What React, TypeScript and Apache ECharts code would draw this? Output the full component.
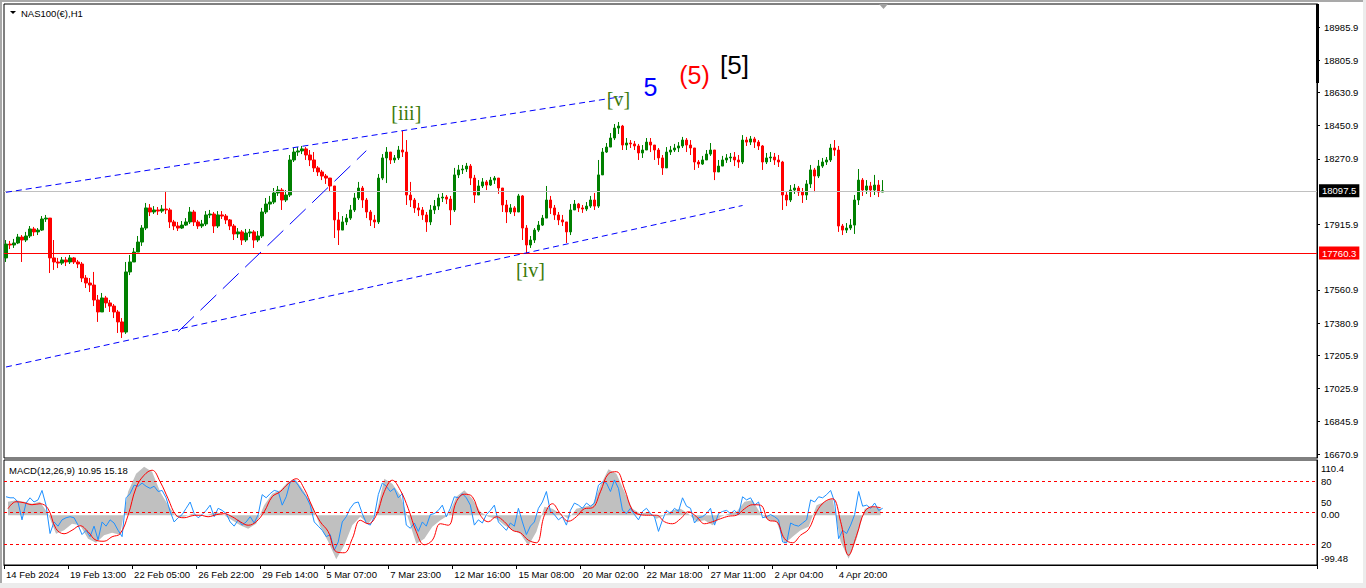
import React, { useEffect, useRef } from 'react';
import * as echarts from 'echarts';

// ---- Price data (H1 candles sampled every 4 hours) ----
const firstOpen = 17734;
const closes = [
  17809,17804,17815,17847,17831,17853,17891,17875,17885,17945,
  17950,17734,17712,17706,17723,17712,17734,17712,17701,17625,
  17598,17587,17506,17441,17517,17490,17473,17441,17387,17332,
  17658,17712,17766,17820,17896,18005,17983,17994,17988,17999,
  17994,17929,17907,17896,17912,17929,17983,17929,17907,17918,
  17967,17972,17907,17967,17961,17940,17907,17864,17875,17831,
  17869,17875,17831,17853,17983,18026,18037,18086,18102,18048,
  18075,18265,18308,18314,18325,18292,18265,18222,18200,18178,
  18167,18124,17940,17885,17929,17950,17994,18059,18113,18048,
  17983,17940,17929,18167,18276,18308,18265,18276,18319,18308,
  18075,18048,18005,17994,17967,17929,17994,18015,18059,18064,
  18053,17994,18184,18211,18216,18232,18167,18075,18124,18146,
  18129,18156,18167,18113,18021,17983,18005,17983,18070,17896,
  17804,17831,17885,17912,17950,18048,18005,17967,17940,17929,
  17875,17994,18026,18005,17999,18015,18048,18015,18184,18308,
  18335,18384,18438,18449,18346,18357,18352,18341,18303,18319,
  18362,18346,18319,18276,18222,18308,18319,18330,18341,18373,
  18346,18330,18254,18243,18265,18297,18319,18200,18232,18265,
  18276,18281,18265,18254,18373,18362,18379,18362,18341,18254,
  18276,18281,18265,18254,18075,18048,18102,18113,18091,18075,
  18135,18211,18178,18232,18254,18265,18330,18319,17907,17885,
  17896,17912,18048,18156,18102,18124,18102,18129,18091,18098,
];
const highs = [
  17831,17826,17837,17864,17858,17875,17907,17902,17896,17961,
  17967,17950,17831,17734,17739,17739,17750,17739,17723,17712,
  17641,17625,17658,17533,17544,17528,17506,17484,17452,17408,
  17712,17750,17788,17853,17912,18032,18026,18015,18010,18021,
  18097,18005,17940,17929,17934,17950,18010,17994,17940,17940,
  17988,17994,17983,17988,17988,17972,17945,17918,17896,17885,
  17891,17891,17885,17880,18005,18059,18070,18113,18124,18113,
  18102,18292,18330,18335,18341,18335,18319,18308,18232,18211,
  18189,18167,18124,17983,17961,17972,18021,18086,18146,18124,
  18059,17994,17967,18189,18297,18335,18297,18292,18341,18422,
  18373,18146,18059,18032,18010,17983,18021,18048,18081,18086,
  18075,18070,18222,18238,18238,18249,18243,18184,18156,18167,
  18156,18173,18178,18167,18113,18048,18026,18015,18081,18075,
  17912,17853,17896,17934,17967,18124,18070,18021,17983,17967,
  17929,18026,18048,18032,18021,18037,18070,18086,18265,18330,
  18357,18411,18460,18471,18455,18384,18373,18368,18352,18346,
  18384,18384,18346,18330,18292,18335,18341,18352,18362,18390,
  18384,18373,18330,18265,18287,18319,18357,18319,18265,18287,
  18297,18303,18308,18292,18400,18390,18395,18390,18373,18346,
  18303,18308,18303,18292,18260,18091,18129,18135,18124,18113,
  18156,18238,18222,18265,18276,18281,18352,18373,18341,17918,
  17923,17945,18075,18216,18167,18156,18146,18184,18156,18156,
];
const lows = [
  17712,17782,17788,17809,17712,17820,17842,17853,17858,17880,
  17929,17652,17669,17679,17696,17690,17701,17701,17679,17603,
  17571,17549,17473,17387,17452,17463,17441,17408,17327,17300,
  17322,17641,17734,17777,17799,17885,17961,17972,17967,17978,
  17972,17896,17885,17880,17891,17907,17918,17907,17891,17896,
  17907,17950,17869,17896,17945,17918,17885,17831,17842,17804,
  17820,17847,17788,17820,17842,17972,17994,18026,18070,17994,
  18037,18064,18254,18287,18297,18265,18232,18200,18178,18156,
  18135,18091,17842,17804,17896,17912,17940,17983,18048,18005,
  17950,17907,17896,17918,18156,18140,18243,18249,18265,18281,
  18021,18010,17978,17961,17940,17875,17912,17972,17994,18037,
  18026,17912,17983,18167,18189,18200,18129,18032,18086,18113,
  18102,18124,18135,18081,17983,17923,17972,17961,17983,17831,
  17761,17788,17815,17875,17907,17967,17972,17940,17912,17907,
  17815,17858,17994,17983,17978,17988,18005,17994,18005,18238,
  18303,18341,18373,18406,18319,18319,18330,18319,18265,18276,
  18319,18308,18265,18238,18184,18265,18292,18308,18308,18330,
  18308,18292,18211,18222,18238,18276,18287,18156,18200,18232,
  18249,18254,18232,18222,18243,18341,18346,18330,18319,18211,
  18243,18254,18238,18227,17994,18015,18037,18081,18070,18032,
  18048,18113,18091,18167,18222,18238,18254,18287,17875,17858,
  17869,17885,17864,18021,18070,18081,18064,18075,18064,18091,
];

// ---- MACD window (8-hour resolution for histogram / signal) ----
const macdHist = [
  27,30,27,23,27,3,-37,-30,-17,-20,
  -47,-55,-40,-35,-39,47,83,97,87,47,
  20,-3,-3,3,0,1,7,0,-10,-20,
  -27,-17,20,43,50,67,70,47,20,-23,
  -53,-88,-60,-20,-3,-17,3,73,63,40,
  -7,-57,-47,-23,-10,0,37,50,33,7,
  -3,-7,-20,-30,-37,-61,-33,17,13,3,
  -7,13,17,20,60,92,83,47,13,3,
  7,-7,0,10,13,3,-13,-10,-20,-3,
  3,7,27,30,3,-10,-13,-57,-43,-30,
  -23,20,27,33,-53,-87,-47,13,17,13,
];
const macdSignal = [
  13,27,25,21,23,13,-27,-37,-30,-21,
  -33,-50,-52,-43,-37,0,55,80,90,67,
  33,0,-5,-1,0,-3,1,3,-3,-13,
  -20,-13,7,37,47,63,73,53,17,-13,
  -33,-73,-75,-47,-10,-17,0,47,70,50,
  13,-33,-59,-50,-17,-20,27,42,37,0,
  -13,-3,-13,-30,-35,-50,-55,0,23,3,
  -12,-3,13,15,47,83,87,53,10,1,
  0,0,-13,-17,-7,7,-3,-17,-13,-7,
  -2,0,13,21,20,-10,-13,-47,-55,-40,
  -28,7,27,33,-13,-80,-40,7,17,15,
];
// blue oscillator (0..100 scale, 4-hour resolution)
const oscillator = [
  65,64,64,60,43,59,64,60,62,71,
  57,30,41,37,43,45,46,45,38,29,
  33,27,37,24,41,37,43,40,33,27,
  64,68,76,75,78,75,73,75,70,71,
  64,51,41,45,48,54,60,49,45,48,
  52,57,46,54,52,49,41,37,43,38,
  41,46,40,48,67,64,68,71,70,57,
  65,79,81,76,70,65,57,41,37,33,
  27,29,14,22,41,46,54,59,60,49,
  40,38,46,67,78,75,70,73,64,68,
  38,35,40,32,41,37,48,49,52,57,
  46,54,65,64,68,64,57,38,43,40,
  48,52,57,41,37,33,40,37,54,41,
  29,37,41,54,60,70,51,48,43,46,
  38,52,59,57,54,59,56,59,76,79,
  78,70,81,73,52,49,54,48,43,51,
  54,49,46,32,43,52,49,54,51,64,
  56,54,40,45,46,49,54,38,49,51,
  52,49,52,48,65,62,64,57,60,45,
  46,48,46,43,22,21,40,38,37,40,
  43,62,60,65,64,67,71,60,25,33,
  30,38,48,70,56,57,54,59,52,54,
];
const oscLevels = [80, 50, 20];

// ---- Axis labels ----
const timeLabels = [
  '14 Feb 2024', '19 Feb 13:00', '22 Feb 05:00', '26 Feb 22:00', '29 Feb 14:00',
  '5 Mar 07:00', '7 Mar 23:00', '12 Mar 16:00', '15 Mar 08:00', '20 Mar 02:00',
  '22 Mar 18:00', '27 Mar 11:00', '2 Apr 04:00', '4 Apr 20:00',
];
const priceTicks = [18985.9, 18805.9, 18630.9, 18450.9, 18270.9, 17915.9, 17560.9, 17380.9, 17205.9, 17025.9, 16845.9, 16670.9];
const macdTicks = [110.4, 0, -99.48];
const bidPrice = 18097.5;
const levelPrice = 17760.3;

// Elliott wave labels: [slot index, price, text, color, size, family]
const waveLabels: [number, number, string, string, number, string][] = [
  [99.5, 18519.7, '[iii]', '#3b7a0b', 20, 'Liberation Serif'],
  [131.25, 17668.5, '[iv]', '#3b7a0b', 20, 'Liberation Serif'],
  [153.25, 18595.6, '[v]', '#3b7a0b', 20, 'Liberation Serif'],
  [161.25, 18660.6, '5', '#0000ff', 25, 'Liberation Sans'],
  [171.5, 18725.7, '(5)', '#ff0000', 25, 'Liberation Sans'],
  [182, 18779.9, '[5]', '#000000', 26, 'Liberation Sans'],
];
// trend lines: [x1, p1, x2, p2, dash]
const trendLines: [number, number, number, number, number[]][] = [
  [-0.25, 18089.7, 154.25, 18609.1, [6, 4]],
  [-0.25, 17142.6, 184.25, 18018.2, [6, 4]],
  [43.25, 17334.0, 89.5, 18315.3, [22, 9]],
];

const SLOTS = 328;
const PER_LABEL = 16;
const FONT = 'Liberation Sans';

export default function App() {
  const ref = useRef<HTMLDivElement>(null);
  useEffect(() => {
    document.body.style.margin = '0';
    const chart = echarts.init(ref.current!, null, { renderer: 'svg' });
    const slots = Array.from({ length: SLOTS }, (_, i) => String(i));
    const macdSlots = Array.from({ length: SLOTS / 2 }, (_, i) => String(i));
    const candles = closes.map((c, i) => {
      const o = i === 0 ? firstOpen : closes[i - 1];
      return [o, c, Math.min(lows[i], o, c), Math.max(highs[i], o, c)];
    });
    const labelTick = (i: number) => i % PER_LABEL === 0 && i / PER_LABEL < timeLabels.length;
    const outerLevels = oscLevels.filter((v) => v !== 50);
    const midLevel = oscLevels.find((v) => v === 50);

    const option: any = {
      animation: false,
      backgroundColor: '#ffffff',
      textStyle: { fontFamily: FONT },
      grid: [
        { left: 4, top: 4, width: 1313, height: 454, show: true, borderColor: '#000', borderWidth: 1 },
        { left: 4, top: 460, width: 1313, height: 105, show: true, borderColor: '#000', borderWidth: 1 },
      ],
      xAxis: [
        { type: 'category', gridIndex: 0, data: slots, axisLine: { show: false, onZero: false }, axisTick: { show: false }, axisLabel: { show: false }, splitLine: { show: false } },
        {
          type: 'category', gridIndex: 1, data: slots, position: 'bottom',
          axisLine: { show: true, onZero: false, lineStyle: { color: '#000' } },
          axisTick: { show: true, interval: (i: number) => labelTick(i), length: 4, lineStyle: { color: '#000' } },
          axisLabel: {
            interval: (i: number) => labelTick(i),
            formatter: (v: string) => timeLabels[Number(v) / PER_LABEL] ?? '',
            align: 'left', fontSize: 9.5, color: '#000', margin: 4, fontFamily: FONT,
          },
          splitLine: { show: false },
        },
        { type: 'category', gridIndex: 1, data: macdSlots, show: false, axisLine: { onZero: false } },
      ],
      yAxis: [
        {
          type: 'value', gridIndex: 0, position: 'right', min: 16649.3, max: 19110.6,
          axisLine: { show: true, onZero: false, lineStyle: { color: '#000' } },
          axisTick: { show: true, customValues: priceTicks, length: 3, lineStyle: { color: '#000' } },
          axisLabel: { customValues: priceTicks, formatter: (v: number) => v.toFixed(1), margin: 7, fontSize: 9.5, color: '#000', fontFamily: FONT },
          splitLine: { show: false },
        },
        {
          type: 'value', gridIndex: 1, position: 'right', min: -99.48, max: 110.4,
          axisLine: { show: true, onZero: false, lineStyle: { color: '#000' } },
          axisTick: { show: false },
          axisLabel: {
            customValues: macdTicks, margin: 4, fontSize: 9.5, color: '#000', fontFamily: FONT,
            formatter: (v: number) => v > 100 ? '{t|' + v.toFixed(1) + '}' : v < -90 ? '{b|' + v.toFixed(2) + '}' : '{z|' + v.toFixed(2) + '}',
            rich: {
              t: { padding: [16, 0, 0, 0], fontSize: 9.5, fontFamily: FONT, color: '#000' },
              b: { padding: [0, 0, 14, 0], fontSize: 9.5, fontFamily: FONT, color: '#000' },
              z: { padding: [0, 0, 2, 0], fontSize: 9.5, fontFamily: FONT, color: '#000' },
            },
          },
          splitLine: { show: false },
        },
        {
          type: 'value', gridIndex: 1, position: 'right', min: 0, max: 100,
          axisLine: { show: false, onZero: false }, axisTick: { show: false },
          axisLabel: { customValues: outerLevels, margin: 4, fontSize: 9.5, color: '#000', fontFamily: FONT },
          splitLine: { show: false },
        },
      ],
      series: [
        {
          type: 'candlestick', xAxisIndex: 0, yAxisIndex: 0, data: candles, barWidth: 3,
          itemStyle: { color: '#008000', color0: '#ff0000', borderColor: '#008000', borderColor0: '#ff0000', borderWidth: 1 },
          markLine: {
            silent: true, symbol: ['none', 'none'], animation: false,
            label: { show: false },
            data: [
              {
                yAxis: bidPrice, lineStyle: { color: '#c0c0c0', type: 'solid', width: 1 },
                label: { show: true, position: 'end', formatter: bidPrice.toFixed(1), color: '#fff', backgroundColor: '#000', padding: [2, 3, 1, 3], distance: 2, fontSize: 9.5, fontFamily: FONT },
              },
              {
                yAxis: levelPrice, lineStyle: { color: '#ff0000', type: 'solid', width: 1 },
                label: { show: true, position: 'end', formatter: levelPrice.toFixed(1), color: '#fff', backgroundColor: '#ff0000', padding: [2, 3, 1, 3], distance: 2, fontSize: 9.5, fontFamily: FONT },
              },
              ...trendLines.map(([x1, p1, x2, p2, dash]) => [
                { coord: [x1, p1], lineStyle: { color: '#0000ff', type: dash, width: 1 } },
                { coord: [x2, p2] },
              ]),
            ],
          },
          markPoint: {
            silent: true, animation: false,
            data: waveLabels.map(([x, p, t, c, s, f]) => ({
              coord: [x, p], symbol: 'rect', symbolSize: 1, itemStyle: { color: 'rgba(0,0,0,0)' },
              label: { show: true, position: 'inside', formatter: t, color: c, fontSize: s, fontFamily: f },
            })),
          },
        },
        {
          type: 'line', xAxisIndex: 2, yAxisIndex: 1, data: macdHist, symbol: 'none', z: 1,
          lineStyle: { width: 0, color: '#c0c0c0' }, areaStyle: { color: '#c0c0c0', opacity: 1 },
        },
        {
          type: 'line', xAxisIndex: 1, yAxisIndex: 2, data: oscillator, symbol: 'none', z: 2,
          lineStyle: { width: 1, color: '#1e90ff' },
          markLine: {
            silent: true, symbol: ['none', 'none'], animation: false, label: { show: false },
            lineStyle: { color: '#ff0000', type: [3, 3], width: 1 },
            data: oscLevels.map((v) => ({ yAxis: v })),
          },
        },
        {
          type: 'line', xAxisIndex: 2, yAxisIndex: 1, data: macdSignal, symbol: 'none', z: 3, smooth: 0.4,
          lineStyle: { width: 1, color: '#ff0000' },
        },
      ],
      graphic: [
        { type: 'rect', shape: { x: 0, y: 0, width: 1366, height: 2 }, style: { fill: '#a9a9a9' }, silent: true },
        { type: 'rect', shape: { x: 0, y: 0, width: 2, height: 588 }, style: { fill: '#a9a9a9' }, silent: true },
        { type: 'rect', shape: { x: 1363, y: 0, width: 3, height: 588 }, style: { fill: '#ececec' }, silent: true },
        { type: 'rect', shape: { x: 0, y: 583, width: 1366, height: 5 }, style: { fill: '#ececec' }, silent: true },
        { type: 'rect', shape: { x: 1316, y: 4, width: 3, height: 79 }, style: { fill: '#000' }, silent: true },
        { type: 'polygon', shape: { points: [[879, 4], [888, 4], [883.5, 9]] }, style: { fill: '#a0a0a0' }, silent: true },
        { type: 'polygon', shape: { points: [[10, 11], [16, 11], [13, 14]] }, style: { fill: '#000' }, silent: true },
        { type: 'text', x: 21, y: 13, style: { text: 'NAS100(€),H1', fill: '#000', fontSize: 9.5, fontFamily: FONT, verticalAlign: 'middle', align: 'left' }, silent: true },
        { type: 'text', x: 9, y: 470, style: { text: 'MACD(12,26,9) 10.95 15.18', fill: '#000', fontSize: 9.5, fontFamily: FONT, verticalAlign: 'middle', align: 'left' }, silent: true },
        { type: 'text', x: 1321, y: 502, z: 100, style: { text: String(midLevel), fill: '#000', fontSize: 9.5, fontFamily: FONT, verticalAlign: 'middle', align: 'left' }, silent: true },
      ],
    };
    chart.setOption(option);
    return () => chart.dispose();
  }, []);
  return <div ref={ref} style={{ width: 1366, height: 588 }} />;
}
